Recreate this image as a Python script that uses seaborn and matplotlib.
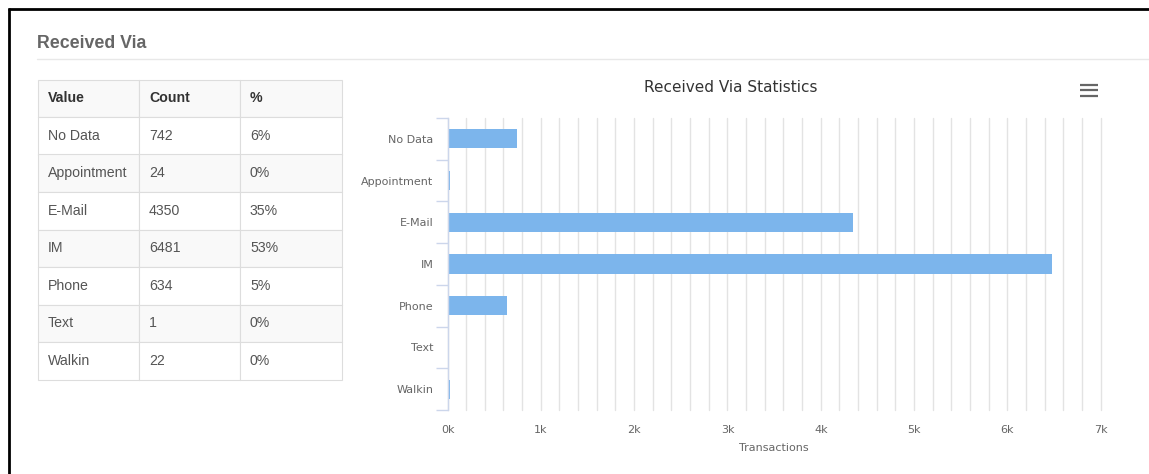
import numpy as np
import pandas as pd
import matplotlib
matplotlib.use("Agg")
import matplotlib.pyplot as plt
import seaborn as sns
from matplotlib.lines import Line2D
from matplotlib.patches import Rectangle

# ---------------- data ----------------
categories = ["No Data", "Appointment", "E-Mail", "IM", "Phone", "Text", "Walkin"]
counts = [742, 24, 4350, 6481, 634, 1, 22]
percents = [6, 0, 35, 53, 5, 0, 0]
table_header = ["Value", "Count", "%"]
x_major_ticks = [0, 1000, 2000, 3000, 4000, 5000, 6000, 7000]
x_tick_labels = ["0k", "1k", "2k", "3k", "4k", "5k", "6k", "7k"]
x_grid_step = 200

sns.set_theme(style="white")
plt.rcParams["font.family"] = ["DejaVu Sans"]

W, H = 1149, 474
fig = plt.figure(figsize=(W / 100, H / 100), dpi=100, facecolor="white")


def fx(px):
    return px / W


def fy(py):
    return 1 - py / H


# ---------------- frame / header ----------------
fig.add_artist(Line2D([fx(9), fx(9)], [fy(8), fy(474)], color="black", lw=2.0,
                      transform=fig.transFigure, solid_capstyle="butt"))
fig.add_artist(Line2D([fx(8), fx(1149)], [fy(9), fy(9)], color="black", lw=2.0,
                      transform=fig.transFigure, solid_capstyle="butt"))
fig.text(fx(37), fy(43.5), "Received Via", fontsize=12.8, fontweight="bold",
         color="#666666", va="center", ha="left", family=["Liberation Sans"])
fig.add_artist(Line2D([fx(37), fx(1149)], [fy(59), fy(59)], color="#e8e8e8", lw=1.0,
                      transform=fig.transFigure))

# ---------------- table ----------------
col_x = [38, 139, 240, 342]
row_top = 79.5
row_h = 37.5
rows = [table_header] + [[c, str(n), f"{p}%"] for c, n, p in zip(categories, counts, percents)]
for r, row in enumerate(rows):
    y0 = row_top + r * row_h
    fill = "#f9f9f9" if r % 2 == 0 else "white"
    for c in range(3):
        fig.add_artist(Rectangle((fx(col_x[c]), fy(y0 + row_h)),
                                 fx(col_x[c + 1]) - fx(col_x[c]), row_h / H,
                                 transform=fig.transFigure, facecolor=fill,
                                 edgecolor="#dddddd", lw=0.8))
        fig.text(fx(col_x[c] + 10), fy(y0 + row_h / 2), row[c],
                 fontsize=10.2, color="#333333" if r == 0 else "#555555",
                 fontweight="bold" if r == 0 else "normal",
                 va="center", ha="left", family=["Liberation Sans"])

# ---------------- chart ----------------
left_px, right_px, top_px, bottom_px = 447.5, 1100.7, 118, 410
ax = fig.add_axes([fx(left_px), fy(bottom_px), fx(right_px) - fx(left_px),
                   fy(top_px) - fy(bottom_px)])
df = pd.DataFrame({"Value": categories, "Count": counts})
sns.barplot(data=df, x="Count", y="Value", color="#7cb5ec", saturation=1,
            width=0.46, ax=ax, linewidth=0)

ax.set_xlim(0, x_major_ticks[-1])
ax.set_ylim(len(categories) - 0.5, -0.5)
ax.set_xticks(x_major_ticks)
ax.set_xticklabels(x_tick_labels)
ax.set_xticks(np.arange(0, x_major_ticks[-1] + 1, x_grid_step), minor=True)
ax.grid(True, axis="x", which="both", color="#e3e3e3", lw=1)
ax.grid(False, axis="y")
ax.set_axisbelow(True)
for gl in ax.xaxis.get_gridlines() + ax.xaxis.get_minorticklines():
    gl.set_clip_on(False)
for t in ax.xaxis.get_minor_ticks() + ax.xaxis.get_major_ticks():
    t.gridline.set_clip_on(False)
ax.tick_params(axis="x", which="both", length=0, labelsize=8, labelcolor="#666666", pad=11)

ax.set_yticks(range(len(categories)))
ax.set_yticks(np.arange(-0.5, len(categories), 1.0), minor=True)
ax.tick_params(axis="y", which="major", length=0, pad=10, labelsize=8, labelcolor="#666666")
ax.tick_params(axis="y", which="minor", left=True, length=9, width=1, color="#ccd6eb")

for s in ["top", "right", "bottom"]:
    ax.spines[s].set_visible(False)
ax.spines["left"].set_color("#ccd6eb")
ax.spines["left"].set_linewidth(1)

ax.set_ylabel("")
ax.set_xlabel("Transactions", fontsize=8, color="#666666")
ax.xaxis.set_label_coords(0.5, -(443 - bottom_px) / (bottom_px - top_px))

fig.text(fx(730.5), fy(87), "Received Via Statistics", fontsize=11, color="#333333",
         ha="center", va="center")

# hamburger menu icon
for yy in [85, 90.3, 95.7]:
    fig.add_artist(Line2D([fx(1080), fx(1098)], [fy(yy), fy(yy)], color="#666666",
                          lw=1.6, transform=fig.transFigure, solid_capstyle="butt"))

fig.savefig("out.png", dpi=100, facecolor="white")
